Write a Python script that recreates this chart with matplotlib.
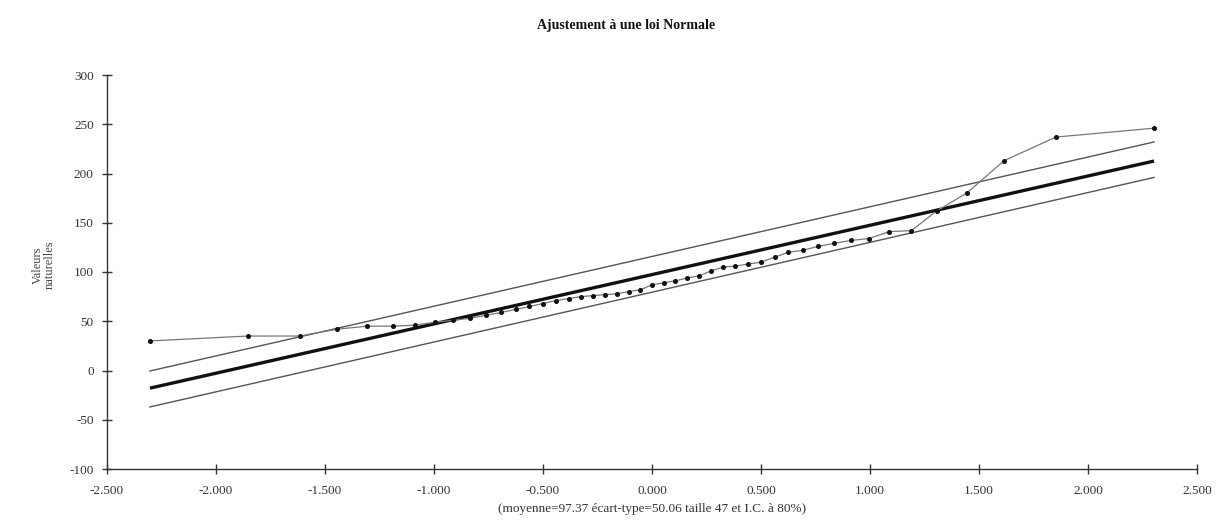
import matplotlib
matplotlib.use("Agg")
import matplotlib.pyplot as plt
from matplotlib.ticker import FuncFormatter

# Normal quantiles (plotting positions) for n = 47
z_quantiles = [-2.303, -1.853, -1.615, -1.443, -1.306, -1.190, -1.088, -0.996,
               -0.912, -0.834, -0.761, -0.691, -0.625, -0.562, -0.500, -0.441,
               -0.383, -0.326, -0.270, -0.215, -0.161, -0.107, -0.053, 0.000,
               0.053, 0.107, 0.161, 0.215, 0.270, 0.326, 0.383, 0.441,
               0.500, 0.562, 0.625, 0.691, 0.761, 0.834, 0.912, 0.996,
               1.088, 1.190, 1.306, 1.443, 1.615, 1.853, 2.303]
# Sorted observed values
observed = [30, 35, 35, 42, 45, 45, 46, 49, 51, 53, 56, 59, 62, 65, 68, 71,
            73, 75, 76, 77, 78, 80, 82, 87, 89, 91, 94, 96, 101, 105, 106, 108,
            110, 115, 120, 122, 126, 129, 132, 134, 141, 142, 162, 180, 213, 237, 246]

mean_val = 97.37
sd_val = 50.06
line_z = [-2.303, 2.303]
ci_upper = [-0.5, 232.0]
ci_lower = [-37.0, 196.0]

x_ticks = [-2.5, -2.0, -1.5, -1.0, -0.5, 0.0, 0.5, 1.0, 1.5, 2.0, 2.5]
y_ticks = [-100, -50, 0, 50, 100, 150, 200, 250, 300]

title_text = "Ajustement à une loi Normale"
xlabel_text = "(moyenne=97.37 écart-type=50.06 taille 47 et I.C. à 80%)"
ylabel_text = "Valeurs\nnaturelles"

plt.rcParams['font.family'] = ['Liberation Serif', 'DejaVu Serif']

fig = plt.figure(figsize=(12.16, 5.30), dpi=100)
ax = fig.add_axes([107/1216, 61/530, (1197-107)/1216, (469-75)/530])

fit_line = [mean_val + sd_val * z for z in line_z]
ax.plot(line_z, ci_upper, color='#555555', lw=1.0)
ax.plot(line_z, ci_lower, color='#555555', lw=1.0)
ax.plot(line_z, fit_line, color='#111111', lw=2.4, solid_capstyle='butt')
ax.plot(z_quantiles, observed, color='#777777', lw=0.9,
        marker='o', markersize=2.6, markerfacecolor='#111111',
        markeredgecolor='#111111')

ax.set_xlim(-2.5, 2.5)
ax.set_ylim(-100, 300)
ax.set_xticks(x_ticks)
ax.set_yticks(y_ticks)
ax.xaxis.set_major_formatter(FuncFormatter(lambda v, p: f"{v:.3f}"))
ax.yaxis.set_major_formatter(FuncFormatter(lambda v, p: f"{int(v)}"))

for s in ['top', 'right']:
    ax.spines[s].set_visible(False)
for s in ['left', 'bottom']:
    ax.spines[s].set_color('#333333')
    ax.spines[s].set_linewidth(1.0)

ax.tick_params(axis='both', direction='inout', length=7, width=1.0,
               color='#333333', labelcolor='#333333', labelsize=9.5)
ax.tick_params(axis='x', pad=8)
ax.tick_params(axis='y', pad=6)

ax.set_xlabel(xlabel_text, fontsize=9.5, color='#333333', labelpad=4)
fig.text(44/1216, 1 - 265/530, ylabel_text, rotation=90, ha='center',
         va='center', fontsize=9, color='#444444', linespacing=1.0)
fig.text(626/1216, 1 - 25/530, title_text, ha='center', va='center',
         fontsize=10, fontweight='bold', color='#111111')

fig.savefig("out.png", dpi=100)
